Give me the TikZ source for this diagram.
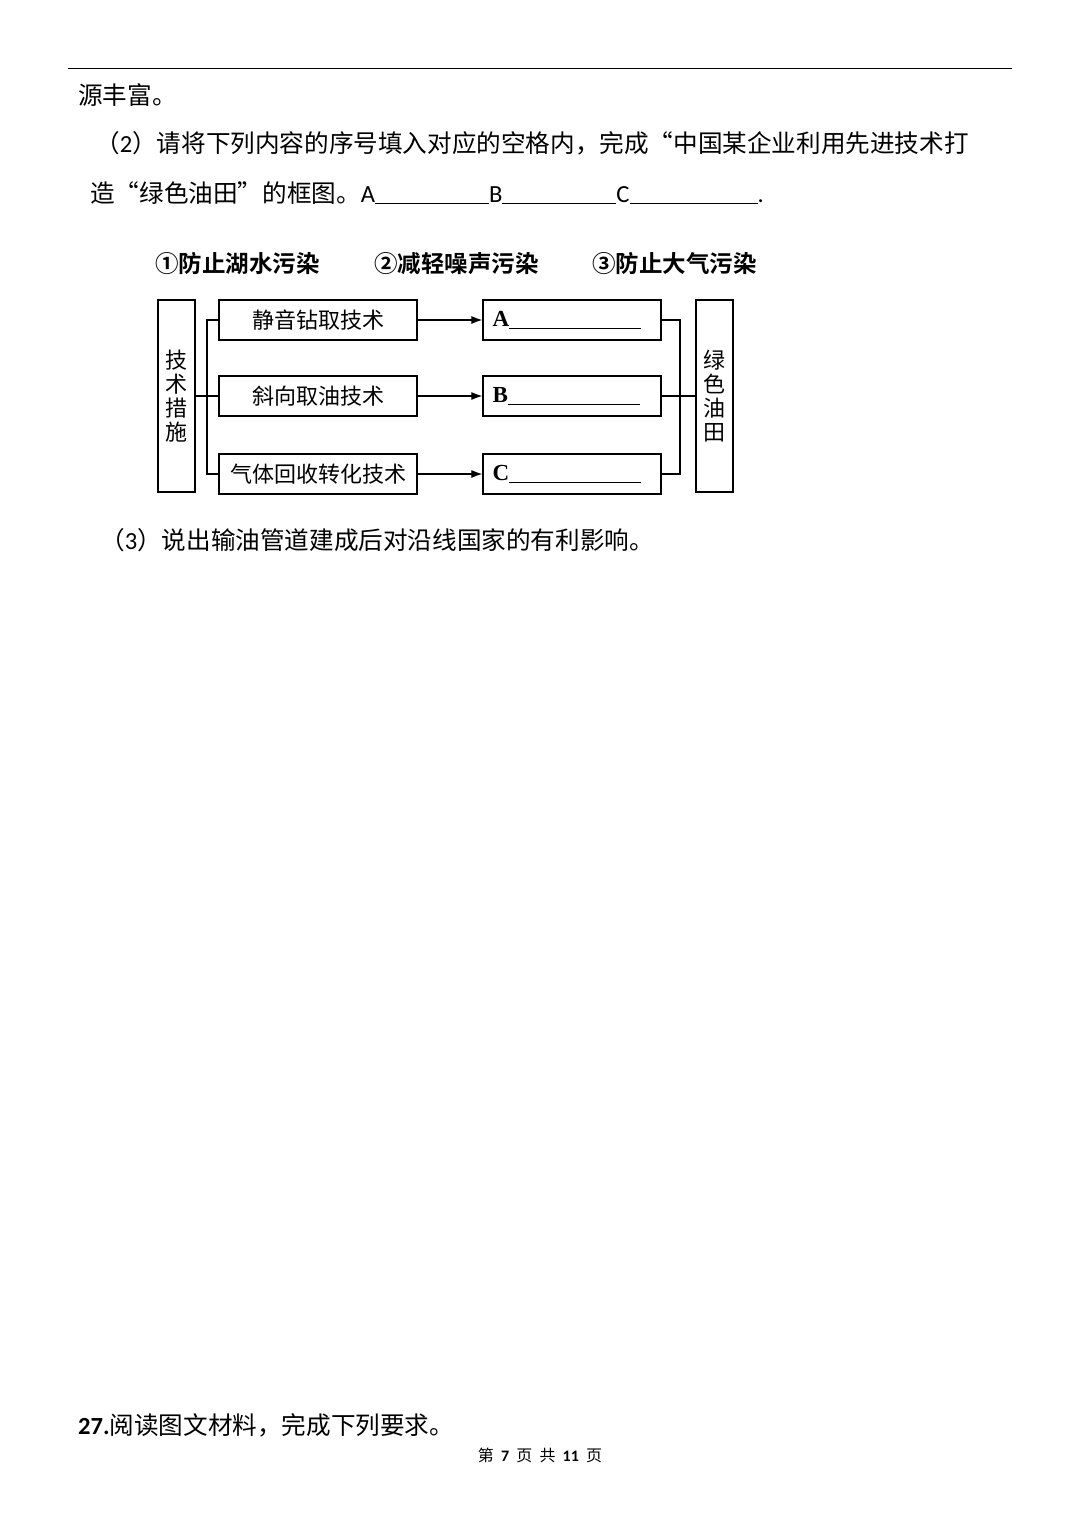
\documentclass[tikz,border=0pt]{standalone}
\usepackage{fontspec}
\usetikzlibrary{arrows.meta}
\setmainfont{Liberation Serif}
\newfontfamily\cjk{Noto Sans CJK SC}
\newfontfamily\cjkb{Noto Sans CJK SC Bold}
\newfontfamily\lat{Carlito}
\begin{document}
\begin{tikzpicture}[x=1pt,y=-1pt,
  box/.style={draw,line width=1.3pt,minimum width=198pt,minimum height=40pt,inner sep=0pt,font=\cjk\fontsize{22}{22}\selectfont},
  rbox/.style={draw,line width=1.3pt,minimum width=178pt,minimum height=40pt,inner sep=0pt},
  vbox/.style={draw,line width=1.3pt,minimum width=37pt,minimum height=192pt,inner sep=0pt,font=\cjk\fontsize{22}{24}\selectfont,align=center},
  ln/.style={line width=1.2pt},
  arr/.style={line width=1.2pt,-{Latex[length=11pt,width=8pt]}},
  body/.style={anchor=west,inner sep=0pt,font=\cjk\fontsize{24.6}{25}\selectfont}]
\useasboundingbox (0,0) rectangle (1080,1525);
\fill[white] (0,0) rectangle (1080,1525);
\coordinate (r1) at (68,68); \coordinate (r2) at (1012,68);
\draw[line width=0.8pt] (r1) -- (r2);
\node[body] (t1) at (78,95) {源丰富。};
\node[body] (t2) at (95,143) {（{\lat 2}）请将下列内容的序号填入对应的空格内，完成“中国某企业利用先进技术打};
\node[body] (t3) at (90,193) {造“绿色油田”的框图。{\lat A\rule[-2pt]{114pt}{1pt}B\rule[-2pt]{114pt}{1pt}C\rule[-2pt]{128pt}{1pt}.}};
\node[body,font=\cjkb\fontsize{23.5}{24}\selectfont] (h1) at (155,264) {①防止湖水污染};
\node[body,font=\cjkb\fontsize{23.5}{24}\selectfont] (h2) at (374,264) {②减轻噪声污染};
\node[body,font=\cjkb\fontsize{23.5}{24}\selectfont] (h3) at (592,264) {③防止大气污染};
\node[vbox] (L) at (176.5,396) {技\\术\\措\\施};
\node[vbox] (R) at (714.5,396) {绿\\色\\油\\田};
\node[box] (b1) at (318,320) {静音钻取技术};
\node[box] (b2) at (318,396) {斜向取油技术};
\node[box] (b3) at (318,474) {气体回收转化技术};
\node[rbox] (a1) at (572,320) {};
\node[rbox] (a2) at (572,396) {};
\node[rbox] (a3) at (572,474) {};
\foreach \n/\l in {a1/A,a2/B,a3/C}
  \node[anchor=west,inner sep=0pt,font=\fontsize{23}{23}\selectfont\bfseries] at ([xshift=10pt]\n.west) {\l\rule[-2pt]{132pt}{1pt}};
\coordinate (lj) at (207,396); \coordinate (rj) at (680,396);
\draw[ln] (L.east) -- (lj);
\draw[ln] (b1.west) -| (lj) |- (b3.west);
\draw[ln] (lj) -- (b2.west);
\draw[ln] (a1.east) -| (rj) |- (a3.east);
\draw[ln] (a2.east) -- (R.west);
\draw[arr] (b1) -- (a1);
\draw[arr] (b2) -- (a2);
\draw[arr] (b3) -- (a3);
\node[body] (t4) at (100,540) {（{\lat 3}）说出输油管道建成后对沿线国家的有利影响。};
\node[body] (t5) at (78,1425) {{\lat\bfseries 27.}阅读图文材料，完成下列要求。};
\node[inner sep=0pt,font=\cjk\fontsize{16}{16}\selectfont] (f) at (540,1455) {第\ \ {\bfseries\lat 7}\ \ 页\ \ 共\ \ {\bfseries\lat 11}\ \ 页};
\end{tikzpicture}
\end{document}
